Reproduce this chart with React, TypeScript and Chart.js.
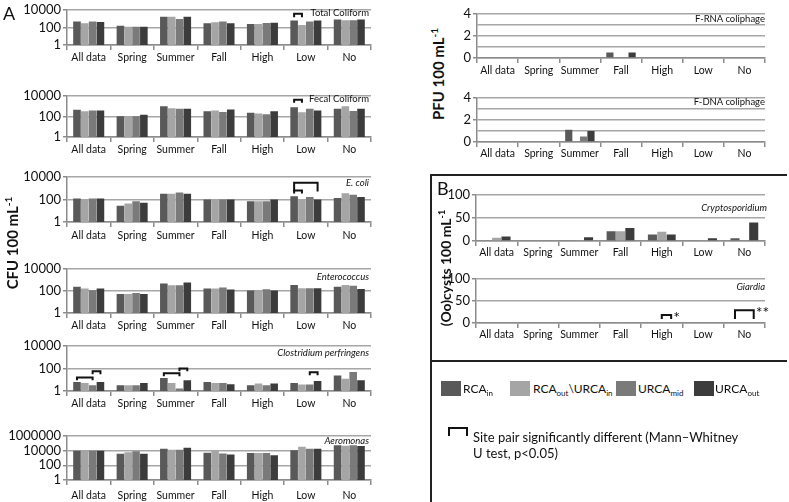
import React, { useEffect, useRef } from 'react';
import { Chart, registerables } from 'chart.js';

Chart.register(...registerables);

const categories = ['All data', 'Spring', 'Summer', 'Fall', 'High', 'Low', 'No'];
const siteColors = ['#595959', '#a5a5a5', '#7a7a7a', '#3c3c3c'];

// A panels (log scale, CFU 100 mL-1): RCAin, RCAout\URCAin, URCAmid, URCAout
const totalColiformRCAin = [480, 155, 1590, 295, 250, 610, 780];
const totalColiformRCAout = [295, 122, 1590, 374, 250, 183, 650];
const totalColiformURCAmid = [480, 122, 910, 480, 320, 480, 650];
const totalColiformURCAout = [407, 122, 1590, 295, 330, 610, 780];

const fecalColiformRCAin = [443, 104, 980, 308, 230, 790, 550];
const fecalColiformRCAout = [308, 104, 630, 380, 190, 247, 980];
const fecalColiformURCAmid = [380, 104, 550, 267, 160, 550, 330];
const fecalColiformURCAout = [380, 148, 550, 475, 320, 380, 550];

const eColiRCAin = [118, 27, 320, 100, 67, 190, 130];
const eColiRCAout = [100, 44, 320, 100, 67, 100, 350];
const eColiURCAmid = [118, 69, 415, 100, 67, 160, 255];
const eColiURCAout = [118, 50, 320, 100, 100, 100, 160];

const enterococcusRCAin = [235, 52, 465, 166, 106, 340, 240];
const enterococcusRCAout = [166, 52, 330, 166, 106, 173, 340];
const enterococcusURCAmid = [117, 64, 330, 200, 140, 173, 295];
const enterococcusURCAout = [166, 52, 575, 135, 106, 173, 150];

const clostridiumRCAin = [6.4, 3.3, 14, 6.4, 3.3, 5.2, 24];
const clostridiumRCAout = [5.2, 3.3, 5.2, 5.2, 4.6, 3.8, 12.4];
const clostridiumURCAmid = [3.3, 3.3, 1.7, 5.2, 3.3, 3.8, 47];
const clostridiumURCAout = [6.4, 5.2, 8.9, 4, 4.6, 7.8, 8.9];

const aeromonasRCAin = [9000, 3600, 17000, 5000, 4800, 11000, 53000];
const aeromonasRCAout = [9000, 6000, 12500, 9000, 4800, 32000, 43000];
const aeromonasURCAmid = [9000, 8300, 12500, 4000, 4800, 17000, 53000];
const aeromonasURCAout = [9000, 3600, 23000, 3000, 2300, 17000, 40000];

// PFU 100 mL-1
const fRnaRCAin = [0, 0, 0, 0.5, 0, 0, 0];
const fRnaRCAout = [0, 0, 0, 0, 0, 0, 0];
const fRnaURCAmid = [0, 0, 0, 0, 0, 0, 0];
const fRnaURCAout = [0, 0, 0, 0.5, 0, 0, 0];

const fDnaRCAin = [0, 0, 1.1, 0, 0, 0, 0];
const fDnaRCAout = [0, 0, 0, 0, 0, 0, 0];
const fDnaURCAmid = [0, 0, 0.5, 0, 0, 0, 0];
const fDnaURCAout = [0, 0, 1.0, 0, 0, 0, 0];

// B panels ((Oo)cysts 100 mL-1): RCAin, RCAout\URCAin, URCAout
const cryptoRCAin = [0, 0, 0, 21, 14, 0, 6];
const cryptoRCAout = [7, 0, 1, 21, 20, 1, 0];
const cryptoURCAout = [10, 0, 8, 28, 14, 6, 40];

const giardiaRCAin = [0, 0, 0, 0, 0, 0, 0];
const giardiaRCAout = [0, 0, 0, 1, 1, 0, 0];
const giardiaURCAout = [0, 0, 0, 0, 0, 0, 0];

// tick values
const logTicks4 = [1, 100, 10000];
const logTicks6 = [1, 100, 10000, 1000000];
const pfuTicks = [0, 1, 2, 3, 4];
const cystTicks = [0, 50, 100];

// significance brackets (category index, dataset indices, top/bottom values)
const totalColiformBrackets = [{ cat: 5, from: 0, to: 1, top: 3500, bottom: 1400 }];
const fecalColiformBrackets = [{ cat: 5, from: 0, to: 1, top: 4200, bottom: 2150 }];
const eColiBrackets = [
  { cat: 5, from: 0, to: 1, top: 600, bottom: 330 },
  { cat: 5, from: 0, to: 3, top: 3000, bottom: 500 },
];
const clostridiumBrackets = [
  { cat: 0, from: 0, to: 2, top: 16, bottom: 9 },
  { cat: 0, from: 2, to: 3, top: 55, bottom: 30 },
  { cat: 2, from: 0, to: 2, top: 37, bottom: 20 },
  { cat: 2, from: 2, to: 3, top: 100, bottom: 55 },
  { cat: 5, from: 2, to: 3, top: 45, bottom: 25 },
];
const giardiaBrackets = [
  { cat: 4, from: 1, to: 2, top: 18, bottom: 9, mark: '*' },
  { cat: 6, from: 0, to: 2, top: 29, bottom: 9, mark: '**' },
];

const FONT = 'Lato, "Liberation Sans", sans-serif';

type Bracket = { cat: number; from: number; to: number; top: number; bottom: number; mark?: string };

function makeBracketPlugin(items: Bracket[]) {
  return {
    id: 'brackets',
    afterDatasetsDraw(chart: any) {
      const ctx = chart.ctx;
      const ys = chart.scales.y;
      ctx.save();
      ctx.strokeStyle = '#111';
      ctx.fillStyle = '#111';
      ctx.lineWidth = 2;
      ctx.lineCap = 'butt';
      items.forEach((b) => {
        const xa = chart.getDatasetMeta(b.from).data[b.cat].x;
        const xb = chart.getDatasetMeta(b.to).data[b.cat].x;
        const yt = ys.getPixelForValue(b.top);
        const yb = ys.getPixelForValue(b.bottom);
        ctx.beginPath();
        ctx.moveTo(xa, yb);
        ctx.lineTo(xa, yt);
        ctx.lineTo(xb, yt);
        ctx.lineTo(xb, yb);
        ctx.stroke();
        if (b.mark) {
          ctx.font = '16px ' + FONT;
          ctx.textAlign = 'left';
          ctx.textBaseline = 'alphabetic';
          ctx.fillText(b.mark, xb + 2, yt + 8);
        }
      });
      ctx.restore();
    },
  };
}

type BoxProps = {
  series: number[][];
  colors: string[];
  log: boolean;
  min: number;
  max: number;
  ticks: number[];
  labelFilter?: (v: number) => boolean;
  brackets?: Bracket[];
  canvasLeft: number;
  plotLeft: number;
  plotRight: number;
  plotTop: number;
  plotBottom: number;
  labelPad: number;
  catPct: number;
};

function ChartBox(p: BoxProps) {
  const ref = useRef<HTMLCanvasElement | null>(null);
  const canvasTop = Math.max(0, p.plotTop - 9);
  const padTop = p.plotTop - canvasTop;
  const H = Math.ceil(p.plotBottom - canvasTop + 5 + p.labelPad + 16);
  const xH = H - (p.plotBottom - canvasTop);
  const padRight = 6;
  const W = Math.ceil(p.plotRight - p.canvasLeft + padRight);
  const axisW = p.plotLeft - p.canvasLeft;

  useEffect(() => {
    const filter = p.labelFilter || (() => true);
    const chart = new Chart(ref.current as HTMLCanvasElement, {
      type: 'bar',
      data: {
        labels: categories,
        datasets: p.series.map((d, i) => ({
          data: d,
          backgroundColor: p.colors[i],
          borderWidth: 0,
          categoryPercentage: p.catPct,
          barPercentage: 0.97,
        })),
      },
      options: {
        animation: false,
        responsive: false,
        devicePixelRatio: 1,
        layout: { autoPadding: false, padding: { top: padTop, right: W - axisW - (p.plotRight - p.plotLeft), left: 0, bottom: 0 } } as any,
        plugins: { legend: { display: false }, tooltip: { enabled: false }, title: { display: false } },
        scales: {
          x: {
            type: 'category',
            offset: true,
            grid: { display: true, offset: true, drawOnChartArea: false, drawTicks: true, tickLength: 5, color: '#8c8c8c', lineWidth: 1.5 },
            border: { display: true, color: '#8c8c8c', width: 1.5 },
            ticks: { font: { family: FONT, size: 10.5 }, color: '#111', padding: p.labelPad, maxRotation: 0, autoSkip: false },
            afterFit: (s: any) => { s.height = xH; },
          },
          y: {
            type: p.log ? 'logarithmic' : 'linear',
            min: p.min,
            max: p.max,
            afterBuildTicks: (s: any) => { s.ticks = p.ticks.map((v) => ({ value: v })); },
            afterFit: (s: any) => { s.width = axisW; },
            ticks: {
              font: { family: FONT, size: 13 },
              color: '#111',
              padding: 2,
              autoSkip: false,
              callback: (v: any) => (filter(Number(v)) ? String(v) : ''),
            },
            grid: {
              color: '#a6a6a6',
              lineWidth: 1.5,
              tickLength: 4,
              tickColor: (c: any) => (c.tick && filter(c.tick.value) ? '#8c8c8c' : 'rgba(0,0,0,0)'),
            },
            border: { display: true, color: '#8c8c8c', width: 1.5 },
          },
        } as any,
      },
      plugins: [makeBracketPlugin(p.brackets || [])],
    } as any);
    return () => chart.destroy();
  }, []);

  return (
    <canvas
      ref={ref}
      width={W}
      height={H}
      style={{ position: 'absolute', left: p.canvasLeft, top: canvasTop, width: W, height: H }}
    />
  );
}

function Txt(props: { x: number; y: number; align?: 'left' | 'right' | 'center'; size: number; italic?: boolean; bold?: boolean; children: any }) {
  const a = props.align || 'left';
  const tx = a === 'left' ? '0' : a === 'right' ? '-100%' : '-50%';
  return (
    <div
      style={{
        position: 'absolute',
        left: props.x,
        top: props.y,
        transform: `translate(${tx}, -50%)`,
        fontSize: props.size,
        fontStyle: props.italic ? 'italic' : 'normal',
        fontWeight: props.bold ? 700 : 400,
        lineHeight: 1.15,
        whiteSpace: 'nowrap',
        color: '#111',
        fontFamily: FONT,
      }}
    >
      {props.children}
    </div>
  );
}

function Rot(props: { x: number; y: number; size: number; children: any }) {
  return (
    <div
      style={{
        position: 'absolute',
        left: props.x,
        top: props.y,
        transform: 'translate(-50%, -50%) rotate(-90deg)',
        fontSize: props.size,
        fontWeight: 700,
        whiteSpace: 'nowrap',
        lineHeight: 1,
        color: '#111',
        fontFamily: FONT,
      }}
    >
      {props.children}
    </div>
  );
}

const Sub = (props: { children: any }) => (
  <span style={{ fontSize: 8, position: 'relative', top: 3 }}>{props.children}</span>
);

function Swatch(props: { x: number; y: number; color: string }) {
  return <div style={{ position: 'absolute', left: props.x, top: props.y, width: 20, height: 15, background: props.color }} />;
}

const leftGeom = { canvasLeft: 7, plotLeft: 67, plotRight: 371, catPct: 0.72 };
const pfuGeom = { canvasLeft: 452, plotLeft: 477, plotRight: 765, catPct: 0.72 };
const cystGeom = { canvasLeft: 446, plotLeft: 476, plotRight: 765, catPct: 0.68 };
const cystColors = [siteColors[0], siteColors[1], siteColors[3]];
const evenOnly = (v: number) => v % 2 === 0;

export default function App() {
  const boxLeft = 430;
  return (
    <div style={{ position: 'absolute', left: 0, top: 0, width: 789, height: 502, background: '#fff', overflow: 'hidden', fontFamily: FONT }}>
      <ChartBox {...leftGeom} series={[totalColiformRCAin, totalColiformRCAout, totalColiformURCAmid, totalColiformURCAout]} colors={siteColors}
        log min={1} max={10000} ticks={logTicks4} brackets={totalColiformBrackets} plotTop={6.5} plotBottom={45} labelPad={1} />
      <ChartBox {...leftGeom} series={[fecalColiformRCAin, fecalColiformRCAout, fecalColiformURCAmid, fecalColiformURCAout]} colors={siteColors}
        log min={1} max={10000} ticks={logTicks4} brackets={fecalColiformBrackets} plotTop={95} plotBottom={137} labelPad={1} />
      <ChartBox {...leftGeom} series={[eColiRCAin, eColiRCAout, eColiURCAmid, eColiURCAout]} colors={siteColors}
        log min={1} max={10000} ticks={logTicks4} brackets={eColiBrackets} plotTop={176} plotBottom={222} labelPad={2.5} />
      <ChartBox {...leftGeom} series={[enterococcusRCAin, enterococcusRCAout, enterococcusURCAmid, enterococcusURCAout]} colors={siteColors}
        log min={1} max={10000} ticks={logTicks4} plotTop={268} plotBottom={313} labelPad={1.5} />
      <ChartBox {...leftGeom} series={[clostridiumRCAin, clostridiumRCAout, clostridiumURCAmid, clostridiumURCAout]} colors={siteColors}
        log min={1} max={10000} ticks={logTicks4} brackets={clostridiumBrackets} plotTop={345} plotBottom={391} labelPad={1} />
      <ChartBox {...leftGeom} series={[aeromonasRCAin, aeromonasRCAout, aeromonasURCAmid, aeromonasURCAout]} colors={siteColors}
        log min={1} max={1000000} ticks={logTicks6} plotTop={435} plotBottom={480} labelPad={4.5} />

      <ChartBox {...pfuGeom} series={[fRnaRCAin, fRnaRCAout, fRnaURCAmid, fRnaURCAout]} colors={siteColors}
        log={false} min={0} max={4} ticks={pfuTicks} labelFilter={evenOnly} plotTop={13} plotBottom={58} labelPad={1.5} />
      <ChartBox {...pfuGeom} series={[fDnaRCAin, fDnaRCAout, fDnaURCAmid, fDnaURCAout]} colors={siteColors}
        log={false} min={0} max={4} ticks={pfuTicks} labelFilter={evenOnly} plotTop={97} plotBottom={142} labelPad={0} />

      <ChartBox {...cystGeom} series={[cryptoRCAin, cryptoRCAout, cryptoURCAout]} colors={cystColors}
        log={false} min={0} max={100} ticks={cystTicks} plotTop={194} plotBottom={241} labelPad={0} />
      <ChartBox {...cystGeom} series={[giardiaRCAin, giardiaRCAout, giardiaURCAout]} colors={cystColors}
        log={false} min={0} max={100} ticks={cystTicks} brackets={giardiaBrackets} plotTop={278} plotBottom={323} labelPad={0} />

      {/* panel letters and axis titles */}
      <Txt x={3} y={13} size={18}>A</Txt>
      <Rot x={11} y={243} size={15}>CFU 100 mL<sup style={{ fontSize: 10 }}>-1</sup></Rot>
      <Rot x={437} y={74} size={15}>PFU 100 mL<sup style={{ fontSize: 10 }}>-1</sup></Rot>

      {/* panel titles */}
      <Txt x={369} y={13} size={9.5} align="right">Total Coliform</Txt>
      <Txt x={369} y={99} size={9.5} align="right">Fecal Coliform</Txt>
      <Txt x={369} y={183} size={9.5} align="right" italic>E. coli</Txt>
      <Txt x={369} y={277} size={9.5} align="right" italic>Enterococcus</Txt>
      <Txt x={369} y={353} size={9.5} align="right" italic>Clostridium perfringens</Txt>
      <Txt x={369} y={441} size={9.5} align="right" italic>Aeromonas</Txt>
      <Txt x={765} y={19} size={9.5} align="right">F-RNA coliphage</Txt>
      <Txt x={765} y={102} size={9.5} align="right">F-DNA coliphage</Txt>
      <Txt x={767} y={208} size={9.5} align="right" italic>Cryptosporidium</Txt>
      <Txt x={765} y={287} size={9.5} align="right" italic>Giardia</Txt>

      {/* box B */}
      <div style={{ position: 'absolute', left: boxLeft, top: 174, width: 787 - boxLeft, height: 2, background: '#222' }} />
      <div style={{ position: 'absolute', left: boxLeft, top: 174, width: 2, height: 330, background: '#222' }} />
      <div style={{ position: 'absolute', left: boxLeft, top: 360, width: 787 - boxLeft, height: 2, background: '#222' }} />
      <Txt x={437} y={188} size={18}>B</Txt>
      <Rot x={445} y={268} size={14}>(Oo)cysts 100 mL<sup style={{ fontSize: 9 }}>-1</sup></Rot>

      {/* legend */}
      <Swatch x={441} y={381} color={siteColors[0]} />
      <Txt x={463} y={389} size={12}>RCA<Sub>in</Sub></Txt>
      <Swatch x={510} y={381} color={siteColors[1]} />
      <Txt x={533} y={389} size={12}>RCA<Sub>out</Sub>\URCA<Sub>in</Sub></Txt>
      <Swatch x={616} y={381} color={siteColors[2]} />
      <Txt x={638} y={389} size={12}>URCA<Sub>mid</Sub></Txt>
      <Swatch x={694} y={381} color={siteColors[3]} />
      <Txt x={715} y={389} size={12}>URCA<Sub>out</Sub></Txt>

      <div style={{ position: 'absolute', left: 448, top: 427, width: 16, height: 7, borderTop: '2px solid #111', borderLeft: '2px solid #111', borderRight: '2px solid #111' }} />
      <Txt x={473} y={437} size={13}>Site pair significantly different (Mann–Whitney</Txt>
      <Txt x={473} y={453} size={13}>U test, p&lt;0.05)</Txt>
    </div>
  );
}
